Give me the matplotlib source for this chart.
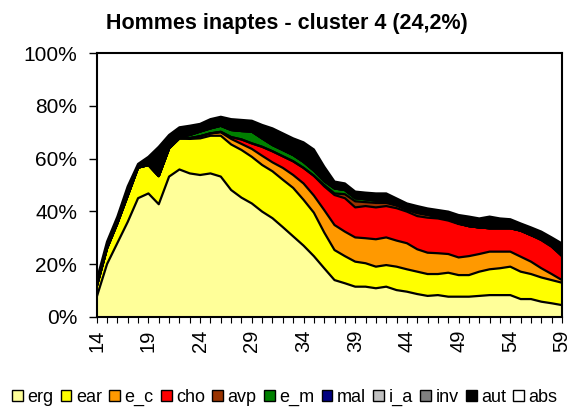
import matplotlib
matplotlib.use("Agg")
import matplotlib.pyplot as plt
import numpy as np
from matplotlib.patches import Patch
from matplotlib.ticker import FixedLocator, PercentFormatter

plt.rcParams['font.family'] = ['Liberation Sans', 'DejaVu Sans']

ages = list(range(14, 60))

# share of each situation by age (%)
erg = [7.5, 20.0, 28.0, 36.0, 45.0, 46.8, 42.7, 53.2, 55.9, 54.4, 53.8, 54.4,
       53.2, 48.1, 45.2, 43.0, 39.9, 37.4, 34.0, 30.5, 27.0, 23.0, 18.4, 13.9,
       12.7, 11.4, 11.4, 10.8, 11.4, 10.1, 9.5, 8.6, 7.9, 8.2, 7.6, 7.6, 7.6,
       7.9, 8.2, 8.2, 8.2, 6.7, 6.7, 5.7, 5.1, 4.4]
ear = [4.0, 6.0, 7.5, 10.0, 11.6, 10.8, 10.7, 10.7, 11.8, 13.1, 13.9, 14.3,
       15.5, 17.3, 18.1, 17.7, 17.7, 17.8, 18.0, 18.4, 17.4, 16.5, 13.6, 11.4,
       10.3, 9.5, 8.9, 8.2, 8.2, 8.9, 8.5, 8.5, 8.3, 8.0, 9.1, 8.2, 8.2, 9.2,
       9.8, 10.2, 10.8, 10.4, 9.5, 9.2, 8.8, 8.5]
e_c = [0, 0, 0, 0, 0, 0, 0, 0, 0, 0.3, 0.8, 0.9, 1.3, 2.1, 2.3, 3.0, 3.5, 3.4,
       4.5, 4.9, 6.2, 6.5, 8.5, 9.5, 9.3, 9.2, 9.5, 10.4, 10.5, 9.9, 9.9, 8.5,
       8.1, 7.9, 7.1, 6.7, 7.2, 6.7, 6.7, 6.3, 5.7, 5.7, 4.7, 3.5, 2.3, 1.0]
cho = [0, 0, 0, 0, 0, 0, 0, 0, 0, 0, 0, 0, 0.2, 0.7, 1.7, 2.1, 3.4, 4.2, 4.4,
       5.2, 5.9, 7.5, 9.0, 11.4, 12.7, 11.4, 12.2, 12.1, 11.9, 12.3, 12.0,
       12.6, 13.3, 13.2, 12.7, 12.7, 11.4, 10.1, 8.9, 8.9, 8.9, 9.9, 10.1,
       10.7, 10.4, 9.1]
avp = [0, 0, 0, 0, 0, 0, 0, 0, 0, 0, 0, 0, 0, 0, 0, 0, 0, 0, 0, 0, 0, 0, 0.5,
       0.6, 1.5, 2.3, 1.5, 1.7, 1.2, 1.0, 0.7, 1.1, 1.0, 0.6, 0.4, 0.2, 0, 0,
       0, 0, 0, 0, 0, 0, 0, 0]
e_m = [0, 0, 0, 0, 0, 0, 0, 0, 0.5, 1.2, 1.8, 1.9, 2.3, 2.7, 3.2, 4.5, 3.2,
       2.4, 2.4, 2.4, 2.3, 2.0, 1.5, 1.9, 1.6, 1.2, 1.1, 0.9, 0.5, 0.2, 0.2,
       0.3, 0.2, 0, 0, 0, 0, 0, 0, 0, 0, 0, 0, 0.4, 0.4, 0.5]
mal = [0] * 45 + [0.2]
i_a = [0] * 46
inv = [0] * 46
aut = [2.5, 2.5, 2.5, 3.5, 1.4, 3.1, 11.1, 5.1, 3.7, 3.5, 2.9, 3.5, 3.4, 4.1,
       4.2, 4.1, 5.1, 6.3, 6.3, 6.3, 7.4, 8.0, 5.5, 2.6, 2.5, 2.5, 2.5, 2.7,
       3.1, 2.5, 2.2, 2.4, 2.3, 2.6, 3.0, 3.2, 3.6, 3.4, 4.4, 3.7, 3.4, 2.7,
       2.9, 2.8, 3.1, 4.1]

labels = ['erg', 'ear', 'e_c', 'cho', 'avp', 'e_m', 'mal', 'i_a', 'inv',
          'aut', 'abs']
colors = ['#FFFF99', '#FFFF00', '#FF9900', '#FF0000', '#993300', '#008000',
          '#000080', '#C0C0C0', '#808080', '#000000', '#FFFFFF']

layers = np.array([erg, ear, e_c, cho, avp, e_m, mal, i_a, inv, aut])
# remaining share up to 100 %
abs_ = 100 - layers.sum(axis=0)
layers = np.vstack([layers, abs_])

fig = plt.figure(figsize=(5.73, 4.12), dpi=100)
ax = fig.add_axes([0.1688, 0.2313, 0.8120, 0.6393])

x = np.array(ages)
bottom = np.zeros(len(ages))
for vals, col in zip(layers, colors):
    top = bottom + vals
    ax.fill_between(x, bottom, top, facecolor=col, linewidth=0)
    bottom = top
# black outline on top of every series
bottom = np.zeros(len(ages))
for vals in layers[:-1]:
    bottom = bottom + vals
    ax.plot(x, bottom, color='black', linewidth=1.6, solid_joinstyle='round')

ax.set_xlim(14, 59)
ax.set_ylim(0, 100)
ax.yaxis.set_major_locator(FixedLocator([0, 20, 40, 60, 80, 100]))
ax.yaxis.set_major_formatter(PercentFormatter(decimals=0))
ax.set_xticks(list(range(14, 60, 5)))
ax.set_xticks(ages, minor=True)
ax.tick_params(axis='x', which='major', labelsize=14.5, rotation=90,
               length=4, width=0.8, pad=5)
ax.tick_params(axis='x', which='minor', length=4, width=0.8)
ax.tick_params(axis='y', labelsize=15, length=6, width=1.0, pad=8)
for s in ax.spines.values():
    s.set_linewidth(1.5)

fig.text(0.5, 0.943, 'Hommes inaptes - cluster 4 (24,2%)', ha='center',
         va='center', fontsize=15.5, fontweight='bold')

handles = [Patch(facecolor=c, edgecolor='black', linewidth=1.0) for c in colors]
fig.legend(handles, labels, loc='center', bbox_to_anchor=(0.497, 0.035),
           ncol=11, frameon=False, fontsize=13, handlelength=0.6,
           handleheight=0.6, handletextpad=0.25, columnspacing=0.4,
           borderpad=0)

fig.savefig('out.png', dpi=100)
